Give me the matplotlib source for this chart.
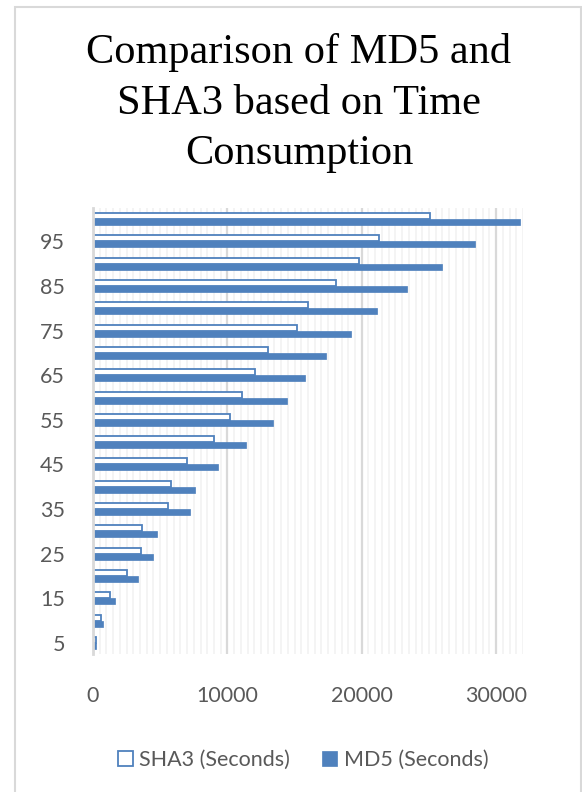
import matplotlib.pyplot as plt
import matplotlib.patches as patches
import numpy as np
from matplotlib.ticker import MultipleLocator

# Data (seconds), file sizes 5..100
sizes = [5, 10, 15, 20, 25, 30, 35, 40, 45, 50,
         55, 60, 65, 70, 75, 80, 85, 90, 95, 100]
sha3 = [230, 580, 1250, 2540, 3540, 3630, 5550, 5780, 6970, 9030,
        10180, 11120, 12020, 13040, 15180, 16020, 18060, 19800, 21270, 25050]
md5 = [250, 720, 1620, 3340, 4460, 4750, 7220, 7590, 9310, 11400,
       13410, 14460, 15800, 17370, 19210, 21100, 23390, 26000, 28410, 31770]

blue = '#4F81BD'
gray_txt = '#595959'
font = 'Lato'

fig = plt.figure(figsize=(5.82, 7.92), dpi=100)
ax = fig.add_axes([93 / 582, 1 - 654 / 792, (523 - 93) / 582, (654 - 208) / 792])

y = np.arange(len(sizes))
h = 0.27
ax.barh(y + h / 2, sha3, height=h, color='white', edgecolor=blue, linewidth=1.3,
        label='SHA3 (Seconds)', zorder=3)
ax.barh(y - h / 2, md5, height=h, color=blue, edgecolor=blue, linewidth=0.5,
        label='MD5 (Seconds)', zorder=3)

ax.set_xlim(0, 32000)
ax.set_ylim(-0.5, len(sizes) - 0.5)

# grid: major every 10000, minor every 500
ax.xaxis.set_major_locator(MultipleLocator(10000))
ax.xaxis.set_minor_locator(MultipleLocator(500))
ax.grid(which='major', axis='x', color='#D9D9D9', linewidth=1.6, zorder=1)
ax.grid(which='minor', axis='x', color='#F4F4F4', linewidth=1.4, zorder=0)
ax.set_axisbelow(True)

ax.set_yticks(y[::2])
ax.set_yticklabels([str(s) for s in sizes[::2]])

for s in ['top', 'right', 'bottom']:
    ax.spines[s].set_visible(False)
ax.spines['left'].set_color('#D9D9D9')
ax.spines['left'].set_linewidth(2)
ax.spines['left'].set_zorder(4)

ax.tick_params(axis='both', which='both', length=0, labelcolor=gray_txt)
ax.tick_params(axis='x', pad=23)
ax.tick_params(axis='y', pad=20)
for lab in ax.get_xticklabels() + ax.get_yticklabels():
    lab.set_fontfamily(font)
    lab.set_fontsize(15.5)

# title
fig.text(299 / 582, 1 - 103 / 792,
         'Comparison of MD5 and\nSHA3 based on Time\nConsumption',
         ha='center', va='center', fontsize=30.5, family='Liberation Serif',
         linespacing=1.39, color='black')

# legend
leg = fig.legend(loc='center', bbox_to_anchor=(303 / 582, 1 - 760 / 792), ncol=2,
                 frameon=False, prop={'family': font, 'size': 15.5},
                 handlelength=0.7, handleheight=0.7, handletextpad=0.3,
                 columnspacing=1.5, borderpad=0)
for t in leg.get_texts():
    t.set_color(gray_txt)

# chart border
fig.patches.append(patches.Rectangle((15 / 582, -0.05), (581 - 15) / 582, 1.05 - 7 / 792,
                                     transform=fig.transFigure, fill=False,
                                     edgecolor='#D9D9D9', linewidth=1.5))

plt.savefig('out.png', dpi=100)
plt.close()
